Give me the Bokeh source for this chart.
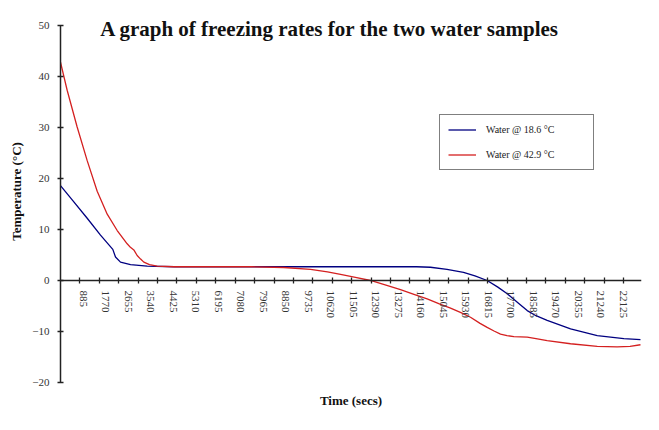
from bokeh.plotting import figure
from bokeh.models import FixedTicker, Label, Legend, LegendItem, Title, Range1d
from bokeh.embed import file_html
from bokeh.resources import INLINE

# ---- data (time in seconds, temperature in °C) ----
time_blue = [0, 460, 1050, 1573, 2057, 2163, 2360, 2753, 3410, 4500, 8000, 12000,
             14000, 14550, 15200, 15850, 16300, 16780, 17200, 17570, 18000, 18355,
             18700, 19140, 20060, 21110, 22155, 22810]
temp_blue = [18.6, 15.8, 12.2, 8.9, 6.1, 4.6, 3.6, 3.1, 2.8, 2.7, 2.7, 2.7,
             2.7, 2.6, 2.2, 1.6, 0.9, 0.0, -1.3, -2.6, -4.4, -5.9,
             -6.9, -7.8, -9.5, -10.8, -11.4, -11.6]

time_red = [0, 262, 655, 1050, 1443, 1837, 2230, 2622, 2750, 2884, 3015, 3150, 3277,
            3500, 3803, 4445, 6000, 7500, 8783, 9833, 10500, 11013, 11600, 12192,
            12800, 13372, 13900, 14420, 14900, 15340, 15750, 16125, 16500, 16780,
            17050, 17305, 17560, 17830, 18355, 18700, 19140, 20060, 21110, 21890,
            22400, 22810]
temp_red = [42.8, 37.3, 30.1, 23.5, 17.5, 13.0, 9.8, 7.2, 6.5, 6.0, 4.9, 4.2, 3.6,
            3.1, 2.8, 2.7, 2.7, 2.7, 2.55, 2.2, 1.7, 1.2, 0.6, 0.0,
            -0.9, -1.8, -2.7, -3.6, -4.6, -5.4, -6.3, -7.2, -8.4, -9.2,
            -9.9, -10.5, -10.8, -11.0, -11.1, -11.4, -11.8, -12.4, -12.9, -13.0,
            -12.9, -12.6]

x_tick_labels = [885, 1770, 2655, 3540, 4425, 5310, 6195, 7080, 7965, 8850, 9735,
                 10620, 11505, 12390, 13275, 14160, 15045, 15930, 16815, 17700,
                 18585, 19470, 20355, 21240, 22125]
x_tick_mark_step = 763.5
y_ticks = [-20, -10, 0, 10, 20, 30, 40, 50]

series_names = ["Water @ 18.6 °C", "Water @ 42.9 °C"]
title_text = "A graph of freezing rates for the two water samples"

SERIF = "Liberation Serif"

p = figure(width=659, height=430, output_backend="svg", toolbar_location=None,
           x_range=Range1d(0, 22850), y_range=Range1d(-20, 54.9),
           min_border_left=60, min_border_top=0, min_border_right=18,
           min_border_bottom=48)
p.grid.visible = False
p.outline_line_color = None
p.background_fill_color = "white"

rb = p.line(time_blue, temp_blue, line_color="#000080", line_width=1.3)
rr = p.line(time_red, temp_red, line_color="#d42020", line_width=1.3)

# x axis at y = 0
xa = p.xaxis[0]
xa.fixed_location = 0
xa.ticker = FixedTicker(ticks=x_tick_labels,
                        minor_ticks=[x_tick_mark_step * k for k in range(1, 30)])
xa.major_tick_line_color = None
xa.major_tick_in = 0
xa.major_tick_out = 3
xa.minor_tick_in = 3
xa.minor_tick_out = 3
xa.minor_tick_line_color = "#222222"
xa.minor_tick_line_width = 1.3
xa.axis_line_color = "#222222"
xa.axis_line_width = 1.5
xa.major_label_orientation = "vertical"
xa.major_label_standoff = 7
xa.major_label_text_font = SERIF
xa.major_label_text_font_size = "11px"
xa.major_label_text_color = "#333333"

ya = p.yaxis[0]
ya.ticker = FixedTicker(ticks=y_ticks)
ya.bounds = (-20, 50)
ya.major_tick_in = 3
ya.major_tick_out = 3
ya.minor_tick_line_color = None
ya.major_tick_line_color = "#222222"
ya.major_tick_line_width = 1.3
ya.axis_line_color = "#222222"
ya.axis_line_width = 1.5
ya.major_label_standoff = 8
ya.major_label_text_font = SERIF
ya.major_label_text_font_size = "11px"
ya.major_label_text_color = "#333333"
ya.axis_label = "Temperature (°C)"
ya.axis_label_text_font = SERIF
ya.axis_label_text_font_style = "bold"
ya.axis_label_text_font_size = "13px"
ya.axis_label_text_color = "#111111"
ya.axis_label_standoff = 5

p.add_layout(Label(x=269.5, y=354, x_units="screen", y_units="screen",
                   text=title_text, text_align="center", text_baseline="middle",
                   text_font=SERIF, text_font_style="bold", text_font_size="21px",
                   text_color="#111111"))

p.add_layout(Title(text="Time (secs)", align="center", text_font=SERIF,
                   text_font_style="bold", text_font_size="13px",
                   text_color="#111111", standoff=17), "below")

legend = Legend(items=[LegendItem(label=series_names[0], renderers=[rb]),
                       LegendItem(label=series_names[1], renderers=[rr])],
                location=(379, 212), orientation="vertical",
                border_line_color="black", border_line_width=1,
                background_fill_color="white", background_fill_alpha=1,
                label_text_font=SERIF, label_text_font_size="10px",
                label_text_color="#222222",
                glyph_width=28, glyph_height=13, spacing=12, padding=8,
                label_standoff=10, label_width=99, label_height=13, margin=0)
p.add_layout(legend)

open("out.html", "w").write(file_html(p, INLINE))
